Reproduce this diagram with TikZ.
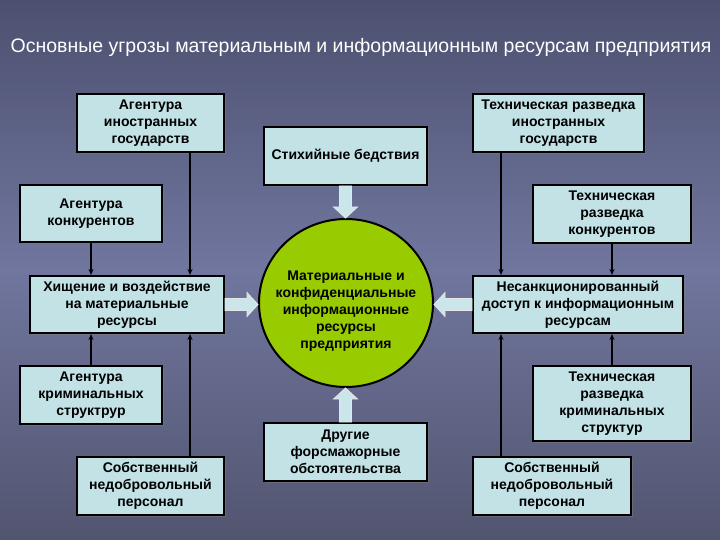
\documentclass[tikz,border=0pt]{standalone}
\usepackage{fontspec}
\setmainfont{Liberation Sans}
\usetikzlibrary{calc,shapes.geometric,shadows,arrows.meta}

\definecolor{boxfill}{RGB}{194,226,230}
\definecolor{resgreen}{RGB}{153,204,0}
\definecolor{bgT}{RGB}{44,46,64}
\definecolor{bgA}{RGB}{62,66,94}
\definecolor{bgB}{RGB}{112,118,158}
\definecolor{bgC}{RGB}{76,78,102}
\definecolor{bgD}{RGB}{38,38,46}
\pgfdeclareverticalshading{bgshade}{100bp}{color(0bp)=(bgD); color(20bp)=(bgC); color(50bp)=(bgB); color(85bp)=(bgA); color(100bp)=(bgT)}

\tikzset{
  threat/.style={draw=black, line width=2pt, fill=boxfill, align=center, inner sep=2pt,
    font=\fontsize{14}{17}\selectfont\bfseries,
    drop shadow={shadow xshift=2pt, shadow yshift=-2pt, opacity=0.45}},
  link/.style={line width=1.6pt, -{Stealth[length=6pt,width=5pt]}},
  fatarr/.style={draw=white!80!gray, line width=0.8pt, fill=boxfill!85!white},
}
% hollow block arrow from #1 to #2
\newcommand{\fatarrow}[2]{%
  \draw[fatarr] let \p1=(#1), \p2=(#2),
    \n1={atan2(\y2-\y1,\x2-\x1)}, \n2={veclen(\x2-\x1,\y2-\y1)-11}, \n3={veclen(\x2-\x1,\y2-\y1)} in
    [shift={(\p1)}, rotate=\n1]
    (0pt,-6pt) -- ({\n2*1pt},-6pt) -- ({\n2*1pt},-12pt) -- ({\n3*1pt},0pt)
    -- ({\n2*1pt},12pt) -- ({\n2*1pt},6pt) -- (0pt,6pt) -- cycle;}

\begin{document}
\begin{tikzpicture}[x=1pt, y=-1pt]
  \useasboundingbox (0,0) rectangle (720,540);
  \shade[shading=bgshade] (0,0) rectangle (720,540);

  \node[text=white, font=\fontsize{19.5}{22}\selectfont] (title) at (361,47)
    {Основные угрозы материальным и информационным ресурсам предприятия};

  %%% left side
  \node[threat, minimum width=147pt, minimum height=58pt] (agInostr) at (150.5,123) {Агентура\\иностранных\\государств};
  \node[threat, minimum width=142pt, minimum height=57pt] (agKonk) at (91,213.5) {Агентура\\конкурентов};
  \node[threat, minimum width=194pt, minimum height=57pt] (hisch) at (127,304.5) {Хищение и воздействие\\на материальные\\ресурсы};
  \node[threat, minimum width=142pt, minimum height=58pt] (agKrim) at (91,395) {Агентура\\криминальных\\структрур};
  \node[threat, minimum width=147pt, minimum height=58pt] (persL) at (150.5,486) {Собственный\\недобровольный\\персонал};

  %%% centre
  \node[threat, minimum width=163pt, minimum height=58pt] (stih) at (345.5,156) {Стихийные бедствия};
  \node[ellipse, draw=black, line width=2pt, fill=resgreen, minimum width=174pt, minimum height=168pt] (res) at (346,303) {};
  \node[align=center, font=\fontsize{14}{17}\selectfont\bfseries] (resText) at (346,311)
    {Материальные и\\конфиденциальные\\информационные\\ресурсы\\предприятия};
  \node[threat, minimum width=163pt, minimum height=58pt] (drugie) at (345.5,452) {Другие\\форсмажорные\\обстоятельства};

  %%% right side
  \node[threat, minimum width=171pt, minimum height=58pt] (trInostr) at (558.5,123) {Техническая разведка\\иностранных\\государств};
  \node[threat, minimum width=158pt, minimum height=58pt] (trKonk) at (612,214) {Техническая\\разведка\\конкурентов};
  \node[threat, minimum width=210pt, minimum height=57pt] (nesank) at (578,304.5) {Несанкционированный\\доступ к информационным\\ресурсам};
  \node[threat, minimum width=158pt, minimum height=75pt] (trKrim) at (612,403.5) {Техническая\\разведка\\криминальных\\структур};
  \node[threat, minimum width=158pt, minimum height=58pt] (persR) at (552,486) {Собственный\\недобровольный\\персонал};

  %%% thin links
  \draw[link] ([xshift=-35pt]agInostr.south east) -- ([xshift=-35pt]hisch.north east);
  \draw[link] (agKonk.south) -- (agKonk.south |- hisch.north);
  \draw[link] (agKrim.north) -- (agKrim.north |- hisch.south);
  \draw[link] ([xshift=-35pt]persL.north east) -- ([xshift=-35pt]hisch.south east);

  \draw[link] ([xshift=29pt]trInostr.south west) -- ([xshift=29pt]nesank.north west);
  \draw[link] (trKonk.south) -- (trKonk.south |- nesank.north);
  \draw[link] (trKrim.north) -- (trKrim.north |- nesank.south);
  \draw[link] ([xshift=29pt]persR.north west) -- ([xshift=29pt]nesank.south west);

  %%% block arrows into the resources
  \fatarrow{hisch.east}{hisch.east -| res.west}
  \fatarrow{nesank.west}{nesank.west -| res.east}
  \fatarrow{stih.south}{stih.south |- res.north}
  \fatarrow{drugie.north}{drugie.north |- res.south}
\end{tikzpicture}
\end{document}
